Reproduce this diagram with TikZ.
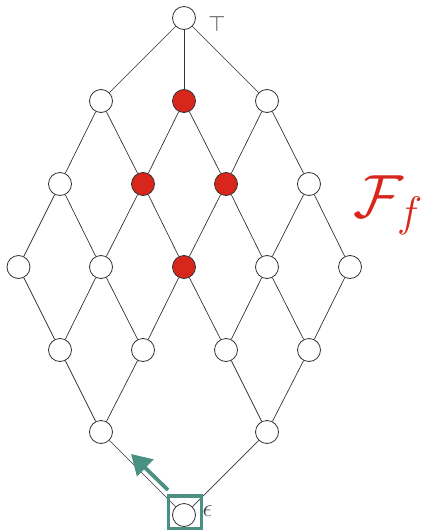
\RequirePackage{fix-cm}
\documentclass[tikz,border=0pt]{standalone}
\usetikzlibrary{arrows.meta}
\definecolor{lred}{HTML}{D9261C}
\definecolor{tealg}{HTML}{4A9183}
\begin{document}
\begin{tikzpicture}[x=1pt,y=-1pt,
  vtx/.style={circle,draw=black!80,fill=white,line width=0.8pt,minimum size=23pt,inner sep=0pt},
  hot/.style={vtx,fill=lred},
  edge/.style={draw=black!80,line width=0.7pt},
  lbl/.style={text=black!75,font=\fontsize{22}{26}\selectfont,inner sep=0pt}]
\useasboundingbox (0,0) rectangle (421,530);
% vertices
\node[vtx] (t) at (184,18) {};
\node[vtx] (a1) at (101,101) {};
\node[hot] (a2) at (184,101) {};
\node[vtx] (a3) at (267,101) {};
\node[vtx] (b1) at (60,184) {};
\node[hot] (b2) at (143,184) {};
\node[hot] (b3) at (226,184) {};
\node[vtx] (b4) at (309,184) {};
\node[vtx] (c1) at (18.5,267) {};
\node[vtx] (c2) at (101,267) {};
\node[hot] (c3) at (184,267) {};
\node[vtx] (c4) at (267,267) {};
\node[vtx] (c5) at (350,267) {};
\node[vtx] (d1) at (60,350) {};
\node[vtx] (d2) at (143,350) {};
\node[vtx] (d3) at (226,350) {};
\node[vtx] (d4) at (309,350) {};
\node[vtx] (e1) at (101,432) {};
\node[vtx] (e2) at (267,432) {};
\node[vtx] (bot) at (184,515) {};
% edges
\foreach \u/\v in {t/a1,t/a2,t/a3,
  a1/b1,a1/b2,a2/b2,a2/b3,a3/b3,a3/b4,
  b1/c1,b1/c2,b2/c2,b2/c3,b3/c3,b3/c4,b4/c4,b4/c5,
  c1/d1,c2/d1,c2/d2,c3/d2,c3/d3,c4/d3,c4/d4,c5/d4,
  d1/e1,d2/e1,d3/e2,d4/e2,
  e1/bot,e2/bot}
  \draw[edge] (\u) -- (\v);
% labels
\node[lbl] (ltop) at (217,24) {$\top$};
\node[lbl,font=\fontsize{25}{28}\selectfont] (leps) at (207.5,511.5) {$\epsilon$};
% highlight box and arrow
\node[draw=tealg,line width=3.3pt,minimum size=33pt,inner sep=0pt] (sq) at (185,512.5) {};
\coordinate (atail) at (168,490);
\coordinate (ahead) at (131,454);
\draw[tealg,line width=3.8pt,-{Triangle[length=20pt,width=23pt]}] (atail) -- (ahead);
% family label
\node[text=lred,font=\fontsize{61}{70}\selectfont,anchor=base west,inner sep=0pt] (ff) at (353,217) {$\mathcal{F}_f$};
\end{tikzpicture}
\end{document}
